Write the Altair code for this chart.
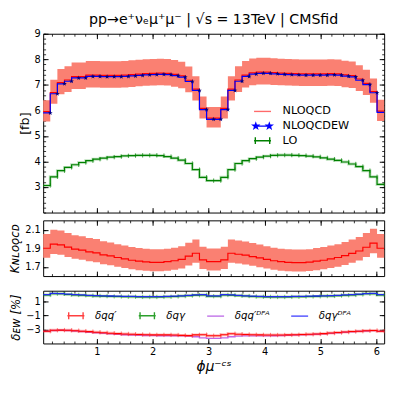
import math
import altair as alt
import numpy as np
import pandas as pd

# ------------------------------------------------------------------ data
X_MIN, X_MAX = 0.04, 6.14
N_BINS = 48
edges = [round(float(v), 4) for v in np.linspace(X_MIN, X_MAX, N_BINS + 1)]

nloqcdew = [5.90, 6.65, 7.04, 7.14, 7.27, 7.27, 7.33, 7.33, 7.32, 7.32,
            7.32, 7.33, 7.35, 7.37, 7.39, 7.40, 7.41, 7.40, 7.36, 7.30,
            7.13, 6.78, 6.03, 5.65, 5.65, 6.03, 6.78, 7.14, 7.33, 7.42,
            7.45, 7.45, 7.43, 7.41, 7.40, 7.39, 7.38, 7.38, 7.38, 7.38,
            7.39, 7.38, 7.34, 7.31, 7.18, 7.01, 6.69, 5.92]
nloqcd = [5.95, 6.70, 7.09, 7.19, 7.32, 7.32, 7.38, 7.38, 7.37, 7.37,
          7.37, 7.38, 7.40, 7.42, 7.44, 7.45, 7.46, 7.45, 7.41, 7.35,
          7.18, 6.83, 6.08, 5.70, 5.70, 6.08, 6.83, 7.19, 7.38, 7.47,
          7.50, 7.50, 7.48, 7.46, 7.45, 7.44, 7.43, 7.43, 7.43, 7.43,
          7.44, 7.43, 7.39, 7.36, 7.23, 7.06, 6.74, 5.97]
nloqcd_hi = [6.40, 7.20, 7.62, 7.73, 7.87, 7.87, 7.93, 7.93, 7.92, 7.92,
             7.92, 7.93, 7.96, 7.98, 8.00, 8.01, 8.02, 8.01, 7.97, 7.90,
             7.72, 7.34, 6.54, 6.13, 6.13, 6.54, 7.34, 7.73, 7.93, 8.03,
             8.06, 8.06, 8.04, 8.02, 8.01, 8.00, 7.99, 7.99, 7.99, 7.99,
             8.00, 7.99, 7.94, 7.91, 7.77, 7.59, 7.25, 6.42]
nloqcd_lo = [5.56, 6.26, 6.63, 6.72, 6.84, 6.84, 6.90, 6.90, 6.89, 6.89,
             6.89, 6.90, 6.92, 6.94, 6.96, 6.97, 6.98, 6.97, 6.93, 6.87,
             6.71, 6.39, 5.68, 5.33, 5.33, 5.68, 6.39, 6.72, 6.90, 6.98,
             7.01, 7.01, 6.99, 6.98, 6.97, 6.96, 6.95, 6.95, 6.95, 6.95,
             6.96, 6.95, 6.91, 6.88, 6.76, 6.60, 6.30, 5.58]
lo = [3.06, 3.40, 3.64, 3.77, 3.87, 3.96, 4.03, 4.09, 4.13, 4.17,
      4.19, 4.22, 4.23, 4.24, 4.24, 4.24, 4.23, 4.19, 4.13, 4.05,
      3.92, 3.68, 3.38, 3.25, 3.25, 3.38, 3.68, 3.92, 4.03, 4.11,
      4.17, 4.21, 4.24, 4.25, 4.25, 4.24, 4.23, 4.21, 4.18, 4.14,
      4.09, 4.04, 3.98, 3.90, 3.80, 3.64, 3.40, 3.10]

k_fac = [1.900, 1.944, 1.936, 1.911, 1.890, 1.879, 1.861, 1.850, 1.828, 1.817,
         1.800, 1.785, 1.770, 1.760, 1.753, 1.748, 1.748, 1.755, 1.765, 1.780,
         1.815, 1.846, 1.775, 1.756, 1.756, 1.775, 1.846, 1.835, 1.825, 1.810,
         1.795, 1.780, 1.765, 1.755, 1.748, 1.745, 1.745, 1.750, 1.760, 1.770,
         1.785, 1.800, 1.820, 1.845, 1.870, 1.910, 1.954, 1.900]
k_hi = [2.052, 2.100, 2.091, 2.064, 2.041, 2.029, 2.010, 1.998, 1.974, 1.962,
        1.944, 1.928, 1.912, 1.901, 1.893, 1.888, 1.888, 1.895, 1.906, 1.922,
        1.960, 1.994, 1.917, 1.896, 1.896, 1.917, 1.994, 1.982, 1.971, 1.955,
        1.939, 1.922, 1.906, 1.895, 1.888, 1.885, 1.885, 1.890, 1.901, 1.912,
        1.928, 1.944, 1.966, 1.993, 2.020, 2.063, 2.110, 2.052]
k_lo = [1.796, 1.837, 1.830, 1.806, 1.786, 1.776, 1.759, 1.748, 1.727, 1.717,
        1.701, 1.687, 1.673, 1.663, 1.657, 1.652, 1.652, 1.658, 1.668, 1.682,
        1.715, 1.744, 1.677, 1.659, 1.659, 1.677, 1.744, 1.734, 1.725, 1.710,
        1.696, 1.682, 1.668, 1.658, 1.652, 1.649, 1.649, 1.654, 1.663, 1.673,
        1.687, 1.701, 1.720, 1.744, 1.767, 1.805, 1.847, 1.796]

d_qq = [-3.25, -3.12, -3.10, -3.12, -3.18, -3.25, -3.32, -3.40, -3.48, -3.55,
        -3.60, -3.65, -3.70, -3.72, -3.75, -3.78, -3.78, -3.78, -3.80, -3.85,
        -3.88, -3.78, -3.75, -3.90, -3.90, -3.75, -3.62, -3.68, -3.72, -3.76,
        -3.78, -3.80, -3.80, -3.80, -3.78, -3.76, -3.72, -3.70, -3.65, -3.60,
        -3.52, -3.45, -3.38, -3.30, -3.25, -3.20, -3.15, -3.25]
d_qq_dpa = [-3.28, -3.15, -3.12, -3.15, -3.22, -3.30, -3.40, -3.48, -3.56, -3.63,
            -3.70, -3.76, -3.80, -3.84, -3.86, -3.88, -3.90, -3.90, -3.90, -3.92,
            -3.95, -4.05, -4.20, -4.28, -4.28, -4.20, -4.05, -3.95, -3.92, -3.92,
            -3.92, -3.92, -3.90, -3.88, -3.85, -3.82, -3.78, -3.74, -3.69, -3.63,
            -3.56, -3.48, -3.40, -3.33, -3.27, -3.22, -3.18, -3.28]
d_qg = [1.90, 2.08, 2.06, 1.96, 1.90, 1.85, 1.80, 1.76, 1.73, 1.70,
        1.68, 1.66, 1.64, 1.62, 1.61, 1.61, 1.62, 1.64, 1.68, 1.74,
        1.80, 1.87, 1.90, 1.72, 1.72, 1.90, 1.87, 1.80, 1.74, 1.68,
        1.64, 1.62, 1.61, 1.61, 1.62, 1.64, 1.66, 1.68, 1.70, 1.74,
        1.76, 1.80, 1.86, 1.90, 1.96, 2.06, 2.08, 1.90]
d_qg_dpa = [1.95, 2.12, 2.10, 2.00, 1.95, 1.90, 1.85, 1.80, 1.78, 1.75,
            1.72, 1.70, 1.68, 1.66, 1.65, 1.65, 1.66, 1.68, 1.72, 1.78,
            1.85, 1.92, 1.95, 1.78, 1.78, 1.95, 1.92, 1.85, 1.78, 1.72,
            1.68, 1.66, 1.65, 1.65, 1.66, 1.68, 1.70, 1.72, 1.75, 1.78,
            1.80, 1.85, 1.90, 1.95, 2.00, 2.10, 2.12, 1.95]

main_labels = ["NLOQCD", "NLOQCDEW", "LO"]
delta_labels = ["δqq′", "δqγ", "δqq′ᴰᴾᴬ", "δqγᴰᴾᴬ"]
x_major = [1, 2, 3, 4, 5, 6]

# ------------------------------------------------------------------ helpers
FONT = "DejaVu Sans"
MAJ, MIN = 5, 2.5
W = 349
H_MAIN, H_K, H_D = 183, 57, 54


def step_frame(values, name=None):
    df = pd.DataFrame({"x": edges, "y": list(values) + [values[-1]]})
    if name is not None:
        df["series"] = name
    return df


def band_frame(lo_v, hi_v):
    return pd.DataFrame({"x": edges,
                         "lo": list(lo_v) + [lo_v[-1]],
                         "hi": list(hi_v) + [hi_v[-1]]})


def corner_frame(values):
    return pd.DataFrame({"x": edges[1:], "y": values})


def star_path(cx, cy, R, r):
    pts = []
    for i in range(10):
        a = math.radians(-90 + 36 * i)
        rad = R if i % 2 == 0 else r
        pts.append(f"{cx + rad * math.cos(a):.3f},{cy + rad * math.sin(a):.3f}")
    return "M" + "L".join(pts) + "Z"


STAR = star_path(0, 0, 1, 0.4)
VTICK = "M0,-1L0,1"
P_LINE = "M-1,0L1,0"
P_ERR = "M-1,0L1,0M-0.85,-0.4L-0.85,0.4M0.85,-0.4L0.85,0.4"
P_STARLINE = "M-1,0L1,0" + star_path(-0.8, 0, 0.33, 0.13) + star_path(0.8, 0, 0.33, 0.13)


def axis(orient, values, size, labels=False, fmt=None, title=None,
         title_size=12, title_style="normal", title_pad=3):
    kw = dict(orient=orient, values=values, tickSize=size, offset=-size,
              domain=False, grid=False, ticks=True, tickColor="#000",
              tickWidth=1 if size == MAJ else 0.8, labels=labels)
    if labels:
        kw.update(labelFont=FONT, labelFontSize=10, labelColor="#000",
                  labelPadding=3, labelFlush=False, labelOverlap=False)
        if fmt:
            kw["format"] = fmt
    if title is not None:
        kw.update(title=title, titleFont=FONT, titleFontSize=title_size,
                  titleFontWeight="normal", titleFontStyle=title_style,
                  titleColor="#000", titlePadding=title_pad)
    else:
        kw["title"] = None
    return alt.Axis(**kw)


def frame_layers(df, xs, ys, y_major, y_minor, y_fmt, y_title, y_tstyle,
                 y_tsize=12, x_labels=False, x_title=None):
    x_minor = [round(0.2 * i, 1) for i in range(1, 31)]
    spec = [("bottom", x_major, MAJ, x_labels, "left", y_major, MAJ, True),
            ("bottom", x_minor, MIN, False, "left", y_minor, MIN, False),
            ("top", x_major, MAJ, False, "right", y_major, MAJ, False),
            ("top", x_minor, MIN, False, "right", y_minor, MIN, False)]
    out = []
    for i, (xo, xv, xsz, xl, yo, yv, ysz, yl) in enumerate(spec):
        xa = axis(xo, xv, xsz, labels=xl, fmt="d",
                  title=x_title if i == 0 else None, title_size=14,
                  title_style="italic", title_pad=4)
        ya = axis(yo, yv, ysz, labels=yl, fmt=y_fmt,
                  title=y_title if i == 0 else None, title_size=y_tsize,
                  title_style=y_tstyle, title_pad=3)
        out.append(alt.Chart(df).mark_line(opacity=0).encode(
            x=alt.X("x:Q", scale=xs, axis=xa),
            y=alt.Y("y:Q", scale=ys, axis=ya)))
    return out


xs = alt.Scale(domain=[X_MIN, X_MAX], nice=False, zero=False)


def line(df, ys, color, width=1.2, opacity=1.0):
    return alt.Chart(df).mark_line(interpolate="step-after", color=color,
                                   strokeWidth=width, opacity=opacity).encode(
        x=alt.X("x:Q", scale=xs, axis=None),
        y=alt.Y("y:Q", scale=ys, axis=None))


def band(df, ys, color):
    return alt.Chart(df).mark_area(interpolate="step-after", color=color,
                                   opacity=1).encode(
        x=alt.X("x:Q", scale=xs, axis=None),
        y=alt.Y("lo:Q", scale=ys, axis=None),
        y2="hi:Q")


def markers(df, ys, shape, size, color, filled, width=1.0, opacity=1.0):
    return alt.Chart(df).mark_point(shape=shape, size=size, filled=filled,
                                    color=color, strokeWidth=width,
                                    opacity=opacity).encode(
        x=alt.X("x:Q", scale=xs, axis=None),
        y=alt.Y("y:Q", scale=ys, axis=None))


SALMON = "#fa8072"
INDEP = dict(stroke="independent", fill="independent", shape="independent")

# ------------------------------------------------------------------ main panel
ys_main = alt.Scale(domain=[2, 9], nice=False, zero=False)
red_df = step_frame(nloqcd, "NLOQCD")
blue_df = step_frame(nloqcdew, "NLOQCDEW")
lo_df = step_frame(lo, "LO")
all_main = pd.concat([red_df, blue_df, lo_df], ignore_index=True)

main_legend = alt.Legend(title=None, orient="none", legendX=215, legendY=70,
                         symbolSize=300, symbolStrokeWidth=1.4, symbolOpacity=1,
                         labelFont=FONT, labelFontSize=11.5, labelColor="#000",
                         labelOffset=11, rowPadding=0, padding=0)
carrier_main = alt.Chart(all_main).mark_point(opacity=0).encode(
    x=alt.X("x:Q", scale=xs, axis=None),
    y=alt.Y("y:Q", scale=ys_main, axis=None),
    stroke=alt.Stroke("series:N", scale=alt.Scale(domain=main_labels,
                      range=["#ff6a6a", "#0000ff", "#008000"]), legend=main_legend),
    fill=alt.Fill("series:N", scale=alt.Scale(domain=main_labels,
                  range=["transparent", "#000080", "transparent"]), legend=main_legend),
    shape=alt.Shape("series:N", scale=alt.Scale(domain=main_labels,
                    range=[P_LINE, P_STARLINE, P_ERR]), legend=main_legend))

main_layers = frame_layers(red_df, xs, ys_main, [3, 4, 5, 6, 7, 8, 9],
                           [round(2 + 0.2 * i, 1) for i in range(36)], "d",
                           "[fb]", "normal", y_tsize=13)
main_layers += [
    band(band_frame(nloqcd_lo, nloqcd_hi), ys_main, SALMON),
    line(red_df, ys_main, "#ff0000", 1.2),
    line(lo_df, ys_main, "#2ca02c", 3, 0.3),
    line(lo_df, ys_main, "#008000", 1.2),
    markers(corner_frame(lo), ys_main, VTICK, 20, "#008000", False, 1, 0.7),
    line(blue_df, ys_main, "#0000ff", 1.2),
    markers(corner_frame(nloqcdew).iloc[:-1], ys_main, STAR, 26, "#000080", True),
    carrier_main,
]
main = alt.layer(*main_layers).resolve_axis(x="independent", y="independent").properties(
    width=W, height=H_MAIN,
    title=alt.TitleParams("pp→e⁺νₑμ⁺μ⁻ | √s = 13TeV | CMSfid", font=FONT,
                          fontSize=14.5, fontWeight="normal", color="#000",
                          anchor="middle", offset=1))

# ------------------------------------------------------------------ K panel
ys_k = alt.Scale(domain=[1.6, 2.2], nice=False, zero=False)
k_df = step_frame(k_fac)
k_layers = frame_layers(k_df, xs, ys_k, [1.7, 1.9, 2.1], [1.7, 1.9, 2.1], ".1f",
                        "Kɴʟᴏǫᴄᴅ", "italic", y_tsize=12)
k_layers += [band(band_frame(k_lo, k_hi), ys_k, SALMON),
             line(k_df, ys_k, "#ff0000", 1.2)]
kpan = alt.layer(*k_layers).resolve_axis(x="independent", y="independent").properties(
    width=W, height=H_K)

# ------------------------------------------------------------------ delta panel
ys_d = alt.Scale(domain=[-5, 2.5], nice=False, zero=False)
qq_df = step_frame(d_qq, delta_labels[0])
qg_df = step_frame(d_qg, delta_labels[1])
qqd_df = step_frame(d_qq_dpa, delta_labels[2])
qgd_df = step_frame(d_qg_dpa, delta_labels[3])
all_d = pd.concat([qq_df, qg_df, qqd_df, qgd_df], ignore_index=True)

d_legend = alt.Legend(title=None, orient="none", legendX=24, legendY=16,
                      direction="horizontal", columns=4, symbolSize=300,
                      symbolStrokeWidth=1.4, symbolOpacity=1, labelFont=FONT,
                      labelFontSize=10.5, labelFontStyle="italic", labelColor="#000",
                      labelOffset=10, columnPadding=19, padding=0)
carrier_d = alt.Chart(all_d).mark_point(opacity=0).encode(
    x=alt.X("x:Q", scale=xs, axis=None),
    y=alt.Y("y:Q", scale=ys_d, axis=None),
    stroke=alt.Stroke("series:N", scale=alt.Scale(domain=delta_labels,
                      range=["#ff4040", "#2ca02c", "#c070e8", "#4a4aff"]), legend=d_legend),
    shape=alt.Shape("series:N", scale=alt.Scale(domain=delta_labels,
                    range=[P_ERR, P_ERR, P_LINE, P_LINE]), legend=d_legend))

d_layers = frame_layers(qq_df, xs, ys_d, [-3, -1, 1], [-3, -1, 1], "d",
                        "δᴇᴡ [%]", "italic", y_tsize=12, x_labels=True,
                        x_title="ϕμ⁻ᶜˢ")
d_layers += [
    line(qqd_df, ys_d, "#b040e0", 1.4, 0.8),
    line(qq_df, ys_d, "#ff4040", 3, 0.35),
    line(qq_df, ys_d, "#ff0000", 1.1),
    markers(corner_frame(d_qq), ys_d, VTICK, 20, "#ff3030", False, 1, 0.6),
    line(qg_df, ys_d, "#2ca02c", 3, 0.35),
    line(qg_df, ys_d, "#008000", 1.1),
    markers(corner_frame(d_qg), ys_d, VTICK, 20, "#2ca02c", False, 1, 0.6),
    line(qgd_df, ys_d, "#2020ff", 1.3, 0.9),
    carrier_d,
]
delta = alt.layer(*d_layers).resolve_axis(x="independent", y="independent").properties(
    width=W, height=H_D)

upper = alt.vconcat(main, kpan, spacing=6).resolve_scale(**INDEP).resolve_legend(**INDEP)
chart = alt.vconcat(upper, delta, spacing=10).resolve_scale(**INDEP).resolve_legend(**INDEP).properties(
    padding={"left": 0, "top": 0, "right": 0, "bottom": 0}, background="white"
).configure_view(stroke="#000", strokeWidth=1)

chart.save("out.html", embed_options={"renderer": "svg", "actions": False})
